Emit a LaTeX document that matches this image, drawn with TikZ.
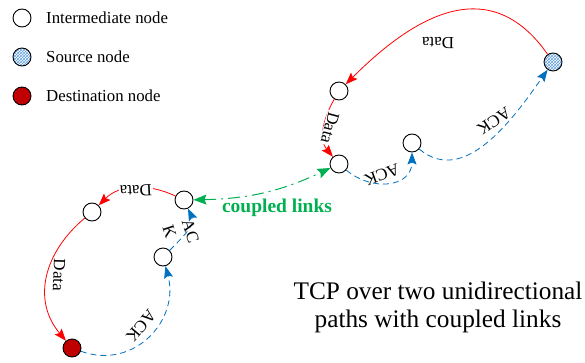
\documentclass[tikz,border=0pt]{standalone}
\usepackage{fontspec}
\setmainfont{Liberation Serif}
\usetikzlibrary{arrows.meta,patterns}
\definecolor{datared}{RGB}{255,0,0}
\definecolor{ackblue}{RGB}{0,112,192}
\definecolor{linkgreen}{RGB}{0,176,80}
\definecolor{dstred}{RGB}{192,0,0}
\definecolor{srcblue}{RGB}{100,160,225}
\tikzstyle{normal}=[circle, fill=white, draw=black, line width=0.9pt, inner sep=0pt, minimum size=18pt]
\tikzstyle{source}=[normal, preaction={fill=white}, pattern=crosshatch, pattern color=srcblue]
\tikzstyle{dest}=[normal, fill=dstred]
\tikzstyle{data}=[draw=datared, line width=0.8pt, -{Stealth[length=12pt,width=9pt,inset=2pt]}]
\tikzstyle{ack}=[draw=ackblue, line width=0.8pt, dash pattern=on 6pt off 4pt, -{Stealth[length=12pt,width=9pt,inset=2pt]}]
\tikzstyle{link}=[draw=linkgreen, line width=1pt, dash pattern=on 12pt off 5pt on 2pt off 5pt, {Stealth[length=13pt,width=10pt,inset=2pt]}-{Stealth[length=13pt,width=10pt,inset=2pt]}]
\tikzstyle{lbl}=[font=\fontsize{17}{20}\selectfont, inner sep=1pt]
\tikzstyle{legtext}=[anchor=west, inner sep=0pt, font=\fontsize{16.8}{20}\selectfont]

\begin{document}
\begin{tikzpicture}[x=1pt, y=1pt]
                    \useasboundingbox (0,0) rectangle (585,362);
                    \node[normal] (lgInter) at (22,344) {};
                    \node[source] (lgSrc) at (22,305) {};
                    \node[dest] (lgDst) at (22,266) {};
                    \node[legtext] (tInter) at (46,344) {Intermediate node};
                    \node[legtext] (tSrc) at (46,305) {Source node};
                    \node[legtext] (tDst) at (46,266) {Destination node};
                    \node[source] (src) at (553,300) {};
                    \node[normal] (nA) at (339,271) {};
                    \node[normal] (nB) at (339,198) {};
                    \node[normal] (nC) at (412,219) {};
                    \node[normal] (nD) at (184,162) {};
                    \node[normal] (nE) at (92,150) {};
                    \node[normal] (nF) at (163,105) {};
                    \node[dest] (dst) at (72,14) {};
                    \draw (src) edge[data, out=125, in=45, looseness=1.25] (nA);
                    \draw (nA) edge[data, out=240, in=130] (nB);
                    \draw (nB) edge[ack, out=-40, in=-90, looseness=1.3] (nC);
                    \draw (nC) edge[ack, out=-40, in=235] (src);
                    \draw (nD) edge[data, out=155, in=45] (nE);
                    \draw (nE) edge[data, out=220, in=130, looseness=1.1] (dst);
                    \draw (dst) edge[ack, out=-20, in=-75, looseness=1.2] (nF);
                    \draw (nF) edge[ack, out=45, in=-65] (nD);
                    \draw (nD) edge[link, bend right=12] (nB);
                    \node[lbl, rotate=180] (tData1) at (438,319) {Data};
                    \node[lbl, rotate=-105, fill=white] (tData2) at (330,234) {Data};
                    \node[lbl, rotate=200] (tAck1) at (382,187) {ACK};
                    \node[lbl, rotate=214] (tAck2) at (494,241) {ACK};
                    \node[lbl, rotate=183, fill=white] (tData3) at (136,171) {Data};
                    \node[lbl, rotate=-92] (tData4) at (59,87) {Data};
                    \node[lbl, rotate=230] (tAck3) at (141,36) {ACK};
                    \node[lbl, rotate=-72, align=left] (tAck4) at (181,128) {AC\\K};
                    \node[font=\bfseries\fontsize{19.5}{22}\selectfont, text=linkgreen, inner sep=0pt] (tLink) at (277,154) {coupled links};
                    \node[font=\fontsize{25.3}{28}\selectfont, align=center, inner sep=0pt] (title) at (438,55) {TCP over two unidirectional\\paths with coupled links};
                    \end{tikzpicture}
\end{document}
